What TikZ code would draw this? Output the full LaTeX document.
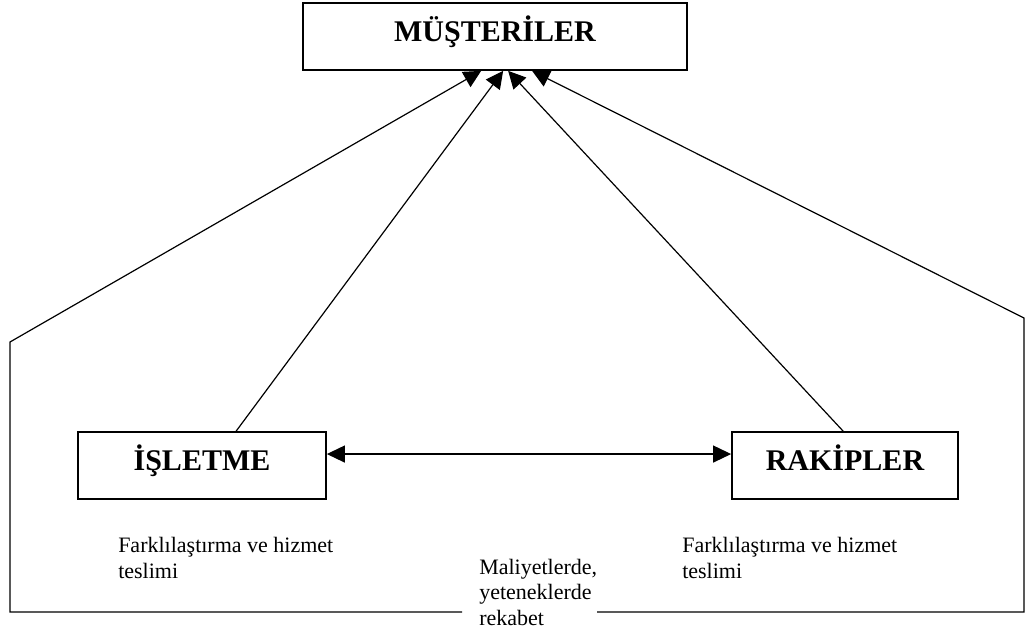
\documentclass[tikz,border=0pt]{standalone}
\usepackage{fontspec}
\setmainfont{Liberation Serif}
\usetikzlibrary{arrows.meta,calc}

\tikzset{
  box/.style={draw, line width=1.3pt, fill=white, minimum height=50.25pt,
    inner sep=0pt, font=\fontsize{22.5}{27}\selectfont\bfseries,
    text height=10.5pt, text depth=3pt},
  link/.style={line width=0.9pt, -{Triangle[length=13pt,width=13pt]}},
  twoway/.style={line width=0.9pt, {Triangle[length=13.5pt,width=12.75pt]}-{Triangle[length=13.5pt,width=12.75pt]}},
  rim/.style={line width=0.9pt},
  % multi-line notes: the base anchor sits on the last line
  note/.style={inner sep=0pt, align=left, anchor=base west,
    font=\fontsize{16.5}{19.1}\selectfont},
}

\begin{document}
\begin{tikzpicture}[x=0.75pt, y=-0.75pt]
  \useasboundingbox (0,0) rectangle (1026,633);

  % the three actors
  \node[box, minimum width=288pt] (mus) at (495,36.5) {MÜŞTERİLER};
  \node[box, minimum width=186pt] (isl) at (202,465.5) {İŞLETME};
  \node[box, minimum width=169.5pt] (rak) at (845,465.5) {RAKİPLER};

  % notes under the firms
  \node[note] (farkL) at (118,578) {Farklılaştırma ve hizmet\\teslimi};
  \node[note] (farkR) at (682,578) {Farklılaştırma ve hizmet\\teslimi};
  \node[note] (rek) at (479,625) {Maliyetlerde,\\yeteneklerde\\rekabet};

  % ends of the outer frame, beside the competition note
  \coordinate (frameL) at (462,612);
  \coordinate (frameR) at (597,612);

  % direct links to the customers
  \draw[link] ($(isl.north west)+(159,0)$) -- ($(mus.south west)+(201,0)$);
  \draw[link] ($(rak.north west)+(112,0)$) -- ($(mus.south west)+(206,0)$);

  % outer frame running up to the customers
  \draw[link] (frameL) -- (10,612) -- (10,342) -- ($(mus.south west)+(179,0)$);
  \draw[link] (frameR) -- (1024,612) -- (1024,318) -- ($(mus.south west)+(230,0)$);

  % rivalry between the firm and its competitors
  \draw[twoway] ([yshift=8.6pt]isl.east) -- ([yshift=8.6pt]rak.west);
\end{tikzpicture}
\end{document}
